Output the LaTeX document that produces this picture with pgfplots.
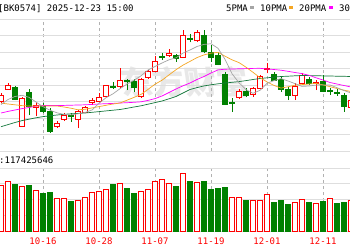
\documentclass[border=0pt]{standalone}
\usepackage{pgfplots}
\pgfplotsset{compat=1.18}
\usepackage{fontspec}
\setmainfont{DejaVu Sans Mono}
\newfontfamily\cjk{Noto Sans CJK SC}
\definecolor{upred}{RGB}{255,0,0}
\definecolor{dngreen}{RGB}{0,128,0}
\definecolor{ma5}{RGB}{165,165,165}
\definecolor{ma10}{RGB}{245,166,35}
\definecolor{ma20}{RGB}{255,0,255}
\definecolor{ma30}{RGB}{20,120,60}
\definecolor{gridc}{RGB}{222,222,222}
\definecolor{borderc}{RGB}{160,160,160}
% k, body low, body high, wick low, wick high
\newcommand{\cu}[5]{%
  \pgfmathsetmacro{\xl}{#1-0.35}\pgfmathsetmacro{\xr}{#1+0.35}%
  \edef\temp{\noexpand\addplot[upred, line width=0.7pt, forget plot] coordinates {(#1,#4) (#1,#5)};
  \noexpand\addplot[upred, fill=white, line width=0.7pt, forget plot] coordinates {(\xl,#2) (\xr,#2) (\xr,#3) (\xl,#3)} --cycle;}%
  \temp}
\newcommand{\cd}[5]{%
  \pgfmathsetmacro{\xl}{#1-0.35}\pgfmathsetmacro{\xr}{#1+0.35}%
  \edef\temp{\noexpand\addplot[dngreen, line width=0.7pt, forget plot] coordinates {(#1,#4) (#1,#5)};
  \noexpand\addplot[dngreen, fill=dngreen, line width=0.7pt, forget plot] coordinates {(\xl,#2) (\xr,#2) (\xr,#3) (\xl,#3)} --cycle;}%
  \temp}
\begin{document}
\begin{tikzpicture}[x=1pt,y=1pt]
\path[use as bounding box, fill=white] (0,0) rectangle (350,250);
\begin{scope}
\clip (0,0) rectangle (350,250);
% watermark
\node[text=black!9, font=\cjk\bfseries\fontsize{32}{32}\selectfont, xslant=-0.15] at (185,168) {东方财富};
% header
\node[anchor=base west, inner sep=0pt, font=\fontsize{9}{9}\selectfont] at (-2,238.5) {[BK0574] 2025-12-23 15:00};
\node[anchor=base west, inner sep=0pt, font=\fontsize{9}{9}\selectfont] at (226,238.5) {5PMA};
\fill[ma5] (250,241.5) rectangle (254,244.5);
\node[anchor=base west, inner sep=0pt, font=\fontsize{9}{9}\selectfont] at (260,238.5) {10PMA};
\fill[ma10] (289,241.5) rectangle (293,244.5);
\node[anchor=base west, inner sep=0pt, font=\fontsize{9}{9}\selectfont] at (299,238.5) {20PMA};
\fill[ma20] (329,241.5) rectangle (333,244.5);
\node[anchor=base west, inner sep=0pt, font=\fontsize{9}{9}\selectfont] at (339,238.5) {30PMA};
\node[anchor=base west, inner sep=0pt, font=\fontsize{9}{9}\selectfont] at (-1,86.5) {:117425646};
\node[anchor=center, inner sep=0pt, text=upred, font=\fontsize{9}{9}\selectfont] at (-13,9) {09-25};

% ===== price panel =====
\begin{axis}[at={(0pt,99pt)}, anchor=south west, scale only axis,
  width=350pt, height=132pt,
  xmin=-6.143, xmax=43.857, ymin=0, ymax=132,
  axis line style={draw=none}, major tick length=0pt,
  xtick={0,8,16,24,32,40}, xticklabels={},
  ytick={16.5,33,49.5,66,82.5,99,115.5}, yticklabels={},
  xmajorgrids, ymajorgrids,
  x grid style={gridc!80!black, dashed, line width=0.6pt},
  y grid style={gridc, line width=0.6pt},
  extra y ticks={0,132}, extra y tick labels={},
  extra y tick style={grid style={borderc, line width=0.8pt, solid}},
]
\cu{-6}{50}{56}{48}{58}
\cu{-5}{62}{65.3}{61.5}{67.7}
\cd{-4}{52}{63.3}{51}{65.3}
\cu{-3}{24.3}{53}{24}{54}
\cd{-2}{44.3}{58.3}{36}{62}
\cu{-1}{43.3}{45.3}{35}{49}
\cd{0}{40}{46}{38}{48}
\cd{1}{19.3}{39.3}{18.5}{43}
\cu{2}{24.3}{28}{23}{30}
\cu{3}{32}{36}{30}{38}
\cd{4}{34.5}{35.5}{29.3}{38.3}
\cu{5}{32}{39.3}{23}{41}
\cu{6}{38.5}{43.3}{38}{45}
\cu{7}{49}{50.5}{46}{53.3}
\cu{8}{50}{53.3}{48.7}{57.7}
\cu{9}{54.3}{65.3}{54}{66}
\cd{10}{64}{65}{62}{69.3}
\cu{11}{64.3}{71}{63.3}{82.7}
\cd{12}{70}{71}{61}{72}
\cd{13}{63.3}{69.3}{58.7}{72}
\cu{14}{54.3}{72}{53.3}{73}
\cu{15}{73.3}{80}{72.5}{81}
\cu{16}{79.3}{90}{79}{95.3}
\cd{17}{93.3}{94.3}{91}{97.7}
\cu{18}{95.3}{97.7}{94.3}{102}
\cd{19}{92.7}{95.3}{89.3}{96.7}
\cu{20}{93.3}{115.3}{93.3}{121}
\cd{21}{111.3}{112.3}{108.7}{116.7}
\cu{22}{111}{118.7}{109.3}{121}
\cd{23}{99.3}{115.3}{97.7}{121}
\cd{24}{93.3}{98.7}{89.3}{106}
\cd{25}{86.7}{95.3}{86}{98.7}
\cd{26}{46.7}{76.7}{46}{79}
\cd{27}{48}{49}{39.3}{52.7}
\cu{28}{53.3}{60}{52}{62}
\cd{29}{56}{59.3}{54}{63}
\cu{30}{56.7}{62.7}{54.3}{64.3}
\cu{31}{62.7}{74.5}{62}{76}
\cu{32}{81.5}{82.8}{77.7}{88}
\cd{33}{71}{76.7}{70}{78.7}
\cd{34}{62}{72}{59.3}{74.3}
\cd{35}{55.3}{62}{51}{64.3}
\cu{36}{55.3}{64.3}{51}{67.7}
\cu{37}{67.7}{75.3}{67}{77.7}
\cd{38}{67.7}{72}{66}{74.3}
\cu{39}{68}{69}{61}{71}
\cd{40}{59.3}{70}{58.7}{76}
\cd{41}{59.7}{60.7}{56}{62.7}
\cd{42}{57.5}{58.5}{55.3}{62}
\cd{43}{44.3}{56}{39.3}{57.7}
\cu{44}{44}{51}{41}{53}
% MA30
\addplot[ma30, line width=0.7pt] coordinates {(-6,24.3) (-5,26.4) (-4,28.5) (-3,30.4) (-2,31.8) (-1,33.2) (0,34.4) (1,35.2) (2,36) (3,36.7) (4,37.2) (5,37.6) (6,38) (7,38.7) (8,39.4) (9,40.1) (10,40.8) (11,41.5) (12,42.7) (13,44) (14,45.2) (15,46.8) (16,48.4) (17,50) (18,52.2) (19,54.5) (20,58) (21,61.5) (22,63.4) (23,65.1) (24,66.2) (25,67.2) (26,68) (27,68.7) (28,69.4) (29,70.4) (30,71.5) (31,72.5) (32,73.2) (33,73.9) (34,74.5) (35,74.8) (36,75.2) (37,75.5) (38,75.4) (39,75.3) (40,75.1) (41,75) (42,74.8) (43,74.7) (44,74.5)};
% MA20
\addplot[ma20, line width=0.7pt] coordinates {(-6,38) (-5,39.6) (-4,41) (-3,42.4) (-2,43.5) (-1,44.8) (0,45.5) (1,45.5) (2,45.5) (3,45.6) (4,45.8) (5,46) (6,46.2) (7,46.6) (8,47) (9,47.3) (10,47.6) (11,48) (12,48.3) (13,48.7) (14,49.2) (15,50.6) (16,52.4) (17,55) (18,58.5) (19,62) (20,65.2) (21,68) (22,71.5) (23,74.5) (24,78) (25,81.1) (26,81.8) (27,82) (28,82.2) (29,82.4) (30,82.6) (31,82.7) (32,82) (33,81.5) (34,80.8) (35,79.7) (36,78.5) (37,77.4) (38,75.7) (39,73.2) (40,71) (41,68.5) (42,67) (43,65.5) (44,64)};
% MA10
\addplot[ma10, line width=0.7pt] coordinates {(-6,47.9) (-5,47) (-4,46.2) (-3,45.4) (-2,45) (-1,45) (0,45) (1,45) (2,45) (3,44) (4,42.8) (5,41.2) (6,41.7) (7,43.1) (8,44.4) (9,45.7) (10,47) (11,48) (12,50.8) (13,53.6) (14,56.6) (15,61.6) (16,66.8) (17,70.8) (18,76.1) (19,81.3) (20,85.9) (21,89.6) (22,93.4) (23,96.1) (24,97.8) (25,98.7) (26,94.8) (27,91.2) (28,88.4) (29,83.8) (30,78.7) (31,73.3) (32,69.1) (33,65.6) (34,62.9) (35,64.2) (36,65.8) (37,66.4) (38,67) (39,67.6) (40,66.1) (41,64.3) (42,62.5) (43,60.8) (44,59.5)};
% MA5
\addplot[ma5, line width=0.7pt] coordinates {(-6,46.5) (-5,51.5) (-4,54.5) (-3,55.7) (-2,53.7) (-1,49) (0,44.3) (1,40.8) (2,38.2) (3,36.6) (4,36.1) (5,37.2) (6,38.5) (7,41) (8,47.7) (9,53.3) (10,57.2) (11,62.3) (12,67) (13,70.7) (14,75.2) (15,81) (16,84.5) (17,88) (18,91.2) (19,93.2) (20,98) (21,101) (22,104.5) (23,106.6) (24,107.3) (25,102.7) (26,91.7) (27,77.3) (28,68.2) (29,61.4) (30,57.7) (31,60.7) (32,67.7) (33,70.4) (34,72.4) (35,70) (36,67.4) (37,64.6) (38,65) (39,65.9) (40,66) (41,66) (42,63.3) (43,60.5) (44,58)};
\end{axis}

% ===== volume panel =====
\begin{axis}[at={(0pt,19pt)}, anchor=south west, scale only axis,
  width=350pt, height=63pt,
  xmin=-6.143, xmax=43.857, ymin=0, ymax=63,
  axis line style={draw=none}, major tick length=0pt,
  xtick={0,8,16,24,32,40},
  xticklabels={10-16,10-28,11-07,11-19,12-01,12-11},
  xticklabel style={anchor=center, yshift=-10pt, text=upred, font=\fontsize{9}{9}\selectfont},
  ytick={15.75,31.5,47.25}, yticklabels={},
  xmajorgrids, ymajorgrids,
  x grid style={gridc!80!black, dashed, line width=0.6pt},
  y grid style={gridc, line width=0.6pt},
  extra y ticks={0,63}, extra y tick labels={},
  extra y tick style={grid style={borderc, line width=0.8pt, solid}},
  ybar, bar width=4.8pt,
]
\addplot[bar shift=0pt, draw=upred, fill=white, line width=0.8pt] coordinates {(-6,46) (-5,50) (-3,45) (-1,41) (2,32.7) (3,32.7) (5,30.3) (6,33.7) (7,38.7) (8,40) (9,41.7) (11,47.7) (14,40) (15,41.7) (16,50) (17,51.7) (18,47.7) (20,57.7) (22,48.7) (27,33.7) (28,33.7) (30,31) (31,31) (32,36.3) (36,28.7) (37,31.7) (39,27.3) (41,32.7) (44,31)};
\addplot[bar shift=0pt, draw=dngreen, fill=dngreen, line width=0.8pt] coordinates {(-4,47) (-2,45.7) (0,37.7) (1,39) (4,29.3) (10,47) (12,42.7) (13,37.7) (19,45) (21,50) (23,50) (24,41.7) (25,42.7) (26,43.3) (29,31) (33,28.3) (34,31) (35,26.7) (38,28.3) (40,29.3) (42,27.7) (43,29)};
\end{axis}
\end{scope}
\end{tikzpicture}
\end{document}
